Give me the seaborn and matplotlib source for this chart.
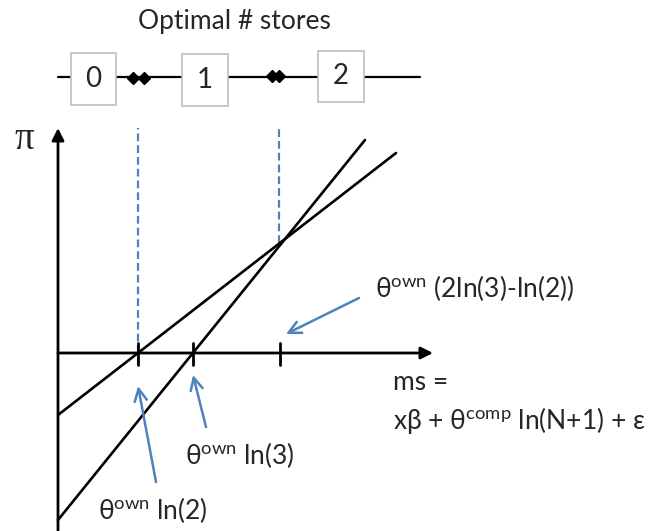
import matplotlib
matplotlib.use("Agg")
import matplotlib.pyplot as plt
import matplotlib.patches as mpatches
import seaborn as sns
import pandas as pd

# ---- data (conceptual diagram coordinates) ----
line1_x = [0.0, 33.8]
line1_y = [-6.2, 20.0]
line2_x = [0.0, 30.7]
line2_y = [-16.7, 21.3]
tick_x = [8.0, 13.5, 22.2]
dashed_x = [8.0, 22.1]
dashed_bottom = [-1.2, 11.0]
store_labels = ["0", "1", "2"]
box_left = [1.3, 12.4, 26.0]
box_right = [5.8, 17.0, 30.6]
box_bottom = [24.8, 24.7, 25.1]
box_top = [30.0, 29.9, 30.2]
diamond_x = [7.5, 8.6, 21.4, 22.1]
diamond_y = [27.5, 27.5, 27.7, 27.7]

sns.set_style("white")
plt.rcParams['font.family'] = ['Lato', 'DejaVu Sans']
plt.rcParams['mathtext.fontset'] = 'custom'
plt.rcParams['mathtext.rm'] = 'Lato'
plt.rcParams['mathtext.it'] = 'Lato:italic'

BLUE = "#4F81BD"
FS = 19
fig = plt.figure(figsize=(6.5, 5.31), dpi=100)
ax = fig.add_axes([0, 0, 1, 1])
ax.set_xlim(-5.8, 59.2)
ax.set_ylim(-17.8, 35.3)
ax.axis("off")

df = pd.concat([
    pd.DataFrame({"ms": line1_x, "pi": line1_y, "line": "a"}),
    pd.DataFrame({"ms": line2_x, "pi": line2_y, "line": "b"}),
])
sns.lineplot(data=df, x="ms", y="pi", units="line", estimator=None,
             color="black", lw=1.9, ax=ax, legend=False, zorder=3)

# axes with arrows
ax.annotate("", xy=(0, 22.5), xytext=(0, -17.8),
            arrowprops=dict(arrowstyle="-|>", color="black", lw=2, mutation_scale=18, shrinkA=0, shrinkB=0))
ax.annotate("", xy=(37.5, 0), xytext=(0, 0),
            arrowprops=dict(arrowstyle="-|>", color="black", lw=2, mutation_scale=18, shrinkA=0, shrinkB=0))

# dashed thresholds
for x, yb in zip(dashed_x, dashed_bottom):
    ax.plot([x, x], [yb, 22.5], ls=(0, (3.5, 1.8)), color=BLUE, lw=1.6, zorder=2)

# ticks
for x in tick_x:
    ax.plot([x, x], [-1.2, 1.0], color="black", lw=2, zorder=4)

# top number line
ax.plot([0, 36.2], [27.6, 27.6], color="black", lw=1.6, zorder=1)
for l, r, b, t, s in zip(box_left, box_right, box_bottom, box_top, store_labels):
    ax.add_patch(mpatches.Rectangle((l, b), r - l, t - b, facecolor="white",
                                    edgecolor="#BFBFBF", lw=1.2, zorder=2))
    ax.text((l + r) / 2, (b + t) / 2, s, ha="center", va="center", fontsize=20, zorder=3)
ax.plot(diamond_x, diamond_y, ls="none", marker="D", color="black", ms=6, zorder=3)
ax.text(17.6, 33.1, "Optimal # stores", ha="center", va="center", fontsize=FS)

# labels
ax.text(-3.4, 21.3, "π", ha="center", va="center", fontsize=28, family=["Liberation Serif"])
ax.text(31.7, 6.5, r"θ$^{\mathrm{own}}$ (2ln(3)-ln(2))", ha="left", va="center", fontsize=FS)
ax.text(33.5, -2.9, "ms =", ha="left", va="center", fontsize=FS)
ax.text(33.5, -6.7, r"xβ + θ$^{\mathrm{comp}}$ ln(N+1) + ε", ha="left", va="center", fontsize=FS)
ax.text(12.7, -10.2, r"θ$^{\mathrm{own}}$ ln(3)", ha="left", va="center", fontsize=FS)
ax.text(4.0, -15.7, r"θ$^{\mathrm{own}}$ ln(2)", ha="left", va="center", fontsize=FS)

arrow_kw = dict(arrowstyle="->", color=BLUE, lw=1.8, mutation_scale=22, shrinkA=0, shrinkB=0)
ax.annotate("", xy=(22.8, 1.9), xytext=(30.1, 5.5), arrowprops=arrow_kw)
ax.annotate("", xy=(13.5, -2.2), xytext=(14.8, -7.4), arrowprops=arrow_kw)
ax.annotate("", xy=(8.0, -3.3), xytext=(9.8, -12.9), arrowprops=arrow_kw)

fig.savefig("out.png", dpi=100)
